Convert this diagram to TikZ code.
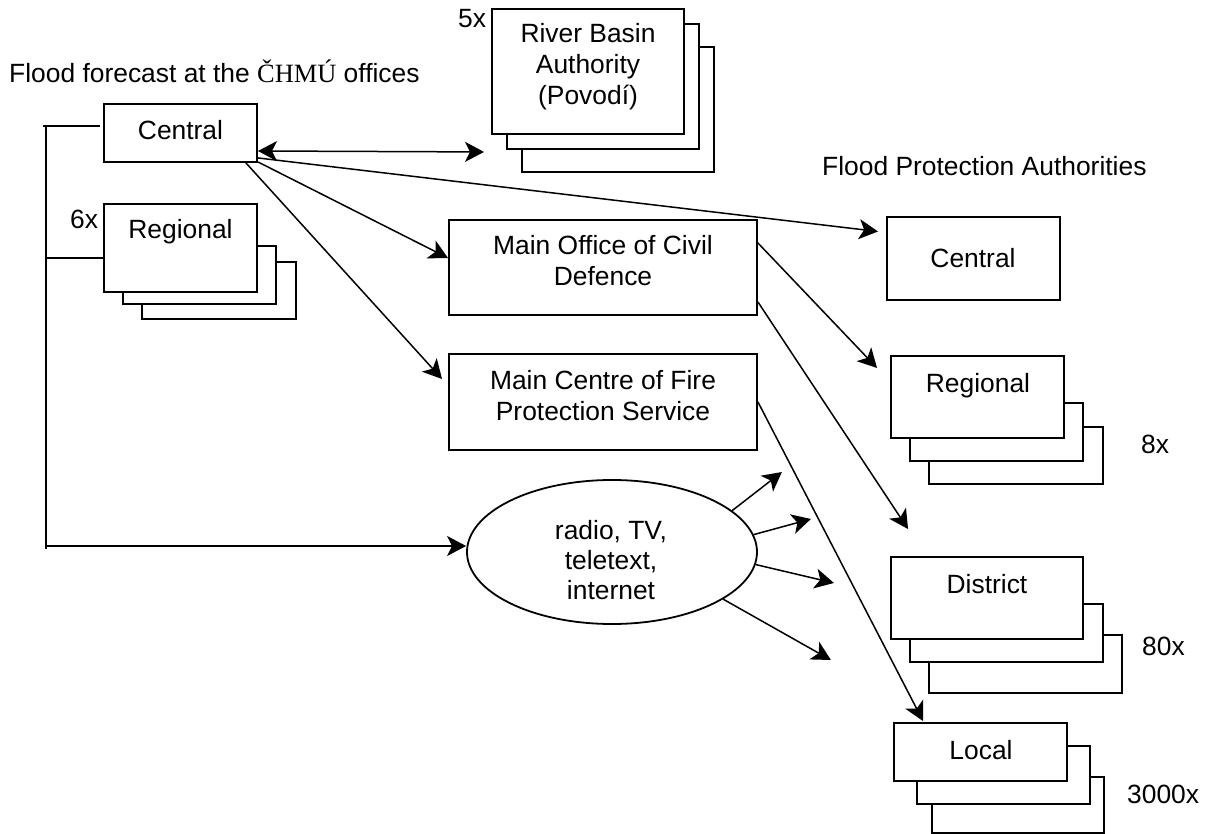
\documentclass[tikz,border=0pt]{standalone}
\usepackage{fontspec}
\setmainfont{Liberation Sans}
\newfontfamily\czserif{Liberation Serif}
\usetikzlibrary{arrows.meta,shapes.geometric,calc}
\begin{document}
\begin{tikzpicture}[x=1pt,y=-1pt,
  box/.style={draw, rectangle, line width=1.9pt, fill=white, inner sep=0pt},
  oval/.style={draw, ellipse, line width=1.8pt, fill=white, inner sep=0pt},
  txt/.style={font=\fontsize{26.4}{31}\selectfont, inner sep=0pt, align=center},
  line/.style={line width=1.5pt},
  conn/.style={line width=1.5pt, -{Stealth[length=19pt,width=20pt,inset=5pt]}},
  biconn/.style={line width=1.5pt, {Stealth[length=19pt,width=20pt,inset=5pt]}-{Stealth[length=19pt,width=20pt,inset=5pt]}}
]
\useasboundingbox (0,0) rectangle (1208,834);

% ---- titles
\node[txt, anchor=base west] (title1) at (9,83) {Flood forecast at the {\czserif ČHMÚ} offices};
\node[txt, anchor=base west] (title2) at (822,176) {Flood Protection Authorities};

% ---- CHMU central
\node[box, minimum width=153pt, minimum height=58pt] (cchmu) at (180.5,133) {};
\node[txt, anchor=base] (cchmuT) at (180.5,140) {Central};

% ---- CHMU regional stack
\node[box, minimum width=154pt, minimum height=57pt] (regC) at (219,290.5) {};
\node[box, minimum width=153pt, minimum height=58pt] (regB) at (199.5,275) {};
\node[box, minimum width=153pt, minimum height=88pt] (regA) at (180.5,248) {};
\node[txt, anchor=base] (regT) at (180.5,239) {Regional};
\node[txt, anchor=base west] (regN) at (70,229) {6x};

% ---- River basin stack
\node[box, minimum width=192pt, minimum height=125pt] (rbaC) at (618,109.5) {};
\node[box, minimum width=192pt, minimum height=125pt] (rbaB) at (603,86.5) {};
\node[box, minimum width=192pt, minimum height=125pt] (rbaA) at (588,71.5) {};
\node[txt] (rbaT) at (588,67) {River Basin\\Authority\\(Povodí)};
\node[txt, anchor=base west] (rbaN) at (458,28) {5x};

% ---- Civil defence / fire protection
\node[box, minimum width=308pt, minimum height=95pt] (mocd) at (603,267.5) {};
\node[txt] (mocdT) at (603,261) {Main Office of Civil\\Defence};
\node[box, minimum width=308pt, minimum height=96pt] (mcf) at (603,402) {};
\node[txt] (mcfT) at (603,396) {Main Centre of Fire\\Protection Service};

% ---- media ellipse
\node[oval, minimum width=290pt, minimum height=144pt] (ell) at (612,552) {};
\node[txt, font=\fontsize{26.4}{30}\selectfont] (ellT) at (611,560) {radio, TV,\\teletext,\\internet};

% ---- Flood protection authorities
\node[box, minimum width=173pt, minimum height=83pt] (fcen) at (973.5,258.5) {};
\node[txt, anchor=base] (fcenT) at (973,268) {Central};

\node[box, minimum width=174pt, minimum height=57pt] (fregC) at (1016,455.5) {};
\node[box, minimum width=173pt, minimum height=58pt] (fregB) at (996.5,432) {};
\node[box, minimum width=173pt, minimum height=82pt] (fregA) at (977.5,397) {};
\node[txt, anchor=base] (fregT) at (978,392) {Regional};
\node[txt, anchor=base west] (fregN) at (1141,453) {8x};

\node[box, minimum width=193pt, minimum height=58pt] (fdisC) at (1025.5,664) {};
\node[box, minimum width=193pt, minimum height=58pt] (fdisB) at (1006.5,633) {};
\node[box, minimum width=192pt, minimum height=82pt] (fdisA) at (987,598) {};
\node[txt, anchor=base] (fdisT) at (987,593) {District};
\node[txt, anchor=base west] (fdisN) at (1142,655) {80x};

\node[box, minimum width=172pt, minimum height=56pt] (flocC) at (1018,805) {};
\node[box, minimum width=173pt, minimum height=58pt] (flocB) at (1003.5,775) {};
\node[box, minimum width=173pt, minimum height=58pt] (flocA) at (980.5,752) {};
\node[txt, anchor=base] (flocT) at (981,759) {Local};
\node[txt, anchor=base west] (flocN) at (1127,803) {3000x};

% ---- left distribution tree
\coordinate (treeTop) at (46,126);
\coordinate (treeBot) at (46,549);
\draw[line] (treeTop) -- (treeBot);
\draw[line] ($(treeTop)+(-3,0)$) -- ($(cchmu.west)+(-3,-7)$);
\draw[line] ($(treeTop)+(0,132)$) -- ($(regA.west)+(0,10)$);
\draw[conn] ($(treeTop)+(0,420)$) -- ($(ell.west)+(0,-6)$);

% ---- connectors from central CHMU
\coordinate (rbaIn) at ($(rbaA.south west)+(-7,17)$);
\draw[biconn] ($(cchmu.east)+(0,18)$) -- (rbaIn);
\draw[conn] ($(cchmu.south east)+(0,-1)$) -- ($(mocd.west)+(0,-9.5)$);
\draw[conn] ($(cchmu.south east)+(0,-5)$) -- ($(fcen.west)+(-8,-27)$);
\draw[conn] ($(cchmu.south east)+(-12,0)$) -- ($(mcf.west)+(-6,-23)$);

% ---- civil defence / fire connectors
\draw[conn] ($(mocd.east)+(0,-24.5)$) -- ($(fregA.west)+(-13,-29)$);
\draw[conn] ($(mocd.east)+(0,34.5)$) -- ($(fdisA.north west)+(18,-27)$);
\draw[conn] (mcf.east) -- ($(flocA.north west)+(30,-1)$);

% ---- media arrows
\draw[conn] (ell.19) -- ($(ell.east)+(24,-80)$);
\draw[conn] (ell.7) -- ($(ell.east)+(53,-33)$);
\draw[conn] (ell.-5) -- ($(ell.east)+(76,31)$);
\draw[conn] (ell.-23) -- ($(ell.east)+(73,108)$);
\end{tikzpicture}
\end{document}
